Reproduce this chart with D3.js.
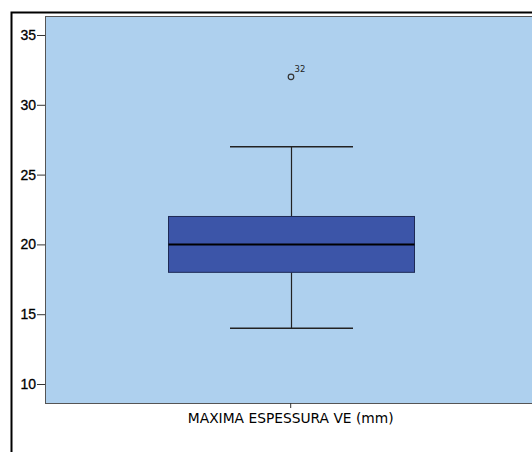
<!DOCTYPE html>
<html>
<head>
<meta charset="utf-8">
<script src="https://cdn.jsdelivr.net/npm/d3@7"></script>
<style>
  html, body { margin: 0; padding: 0; background: #fff; }
  svg { display: block; }
</style>
</head>
<body>
<svg id="chart" width="532" height="452"></svg>
<script>
// Boxplot summary for the single variable
const categories = ["MAXIMA ESPESSURA VE (mm)"];
const whiskerLow = [14];
const quartile1 = [18];
const medians = [20];
const quartile3 = [22];
const whiskerHigh = [27];
const outlierValues = [32];
const outlierCases = ["32"];
const yTicks = [10, 15, 20, 25, 30, 35];

const svg = d3.select("#chart");
const W = 532, H = 452;
const plot = { left: 45, top: 16, right: 540, bottom: 403 };

// outer frame (left and top edges visible)
svg.append("path")
  .attr("d", `M11.5,${H + 2} V12.5 H${W + 2}`)
  .attr("fill", "none").attr("stroke", "#000").attr("stroke-width", 2);

const y = d3.scaleLinear().domain([8.64, 36.36]).range([plot.bottom, plot.top]);
const x = d3.scaleBand().domain(categories).range([45, 536.4]).paddingInner(0).paddingOuter(0);

// plot background
svg.append("rect")
  .attr("x", plot.left + 0.5).attr("y", plot.top + 0.5)
  .attr("width", plot.right - plot.left).attr("height", plot.bottom - plot.top)
  .attr("fill", "#aed0ee").attr("stroke", "#555").attr("stroke-width", 1);

// y axis
const yAxis = d3.axisLeft(y).tickValues(yTicks).tickSize(8).tickPadding(1).tickFormat(d3.format("d"));
const gy = svg.append("g").attr("transform", `translate(${plot.left},0)`).call(yAxis);
gy.select(".domain").remove();
gy.selectAll(".tick line").attr("stroke", "#333");
gy.selectAll(".tick text")
  .attr("font-family", "Liberation Sans, Arial, sans-serif")
  .attr("font-size", 14).attr("fill", "#000")
  .attr("stroke", "#000").attr("stroke-width", 0.3);

// x axis
const xAxis = d3.axisBottom(x).tickSize(5).tickPadding(5);
const gx = svg.append("g").attr("transform", `translate(0,${plot.bottom})`).call(xAxis);
gx.select(".domain").remove();
gx.selectAll(".tick line").attr("stroke", "#333");
gx.selectAll(".tick text")
  .attr("font-family", "DejaVu Sans, Verdana, sans-serif")
  .attr("font-size", 13.8).attr("fill", "#000");

const boxW = 246, capW = 123;
const g = svg.append("g");
categories.forEach((c, i) => {
  const cx = Math.round(x(c) + x.bandwidth() / 2) + 0.5;
  // whiskers
  g.append("line").attr("x1", cx).attr("x2", cx)
    .attr("y1", y(whiskerHigh[i])).attr("y2", y(quartile3[i]))
    .attr("stroke", "#222").attr("stroke-width", 1.2);
  g.append("line").attr("x1", cx).attr("x2", cx)
    .attr("y1", y(quartile1[i])).attr("y2", y(whiskerLow[i]))
    .attr("stroke", "#222").attr("stroke-width", 1.2);
  [whiskerHigh[i], whiskerLow[i]].forEach(v => {
    g.append("line").attr("x1", cx - capW / 2).attr("x2", cx + capW / 2)
      .attr("y1", y(v)).attr("y2", y(v))
      .attr("stroke", "#222").attr("stroke-width", 1.5);
  });
  // box
  g.append("rect")
    .attr("x", cx - boxW / 2).attr("y", y(quartile3[i]))
    .attr("width", boxW).attr("height", y(quartile1[i]) - y(quartile3[i]))
    .attr("fill", "#3c55a8").attr("stroke", "#1e2a55").attr("stroke-width", 1);
  // median
  g.append("line").attr("x1", cx - boxW / 2).attr("x2", cx + boxW / 2)
    .attr("y1", y(medians[i])).attr("y2", y(medians[i]))
    .attr("stroke", "#000").attr("stroke-width", 2);
  // outliers
  outlierValues.forEach((v, k) => {
    g.append("circle").attr("cx", cx - 0.5).attr("cy", y(v)).attr("r", 2.8)
      .attr("fill", "none").attr("stroke", "#333").attr("stroke-width", 1.2);
    g.append("text").attr("x", cx + 3).attr("y", y(v) - 5)
      .attr("font-family", "DejaVu Sans, Verdana, sans-serif")
      .attr("font-size", 8.5).attr("fill", "#222")
      .text(outlierCases[k]);
  });
});
</script>
</body>
</html>
